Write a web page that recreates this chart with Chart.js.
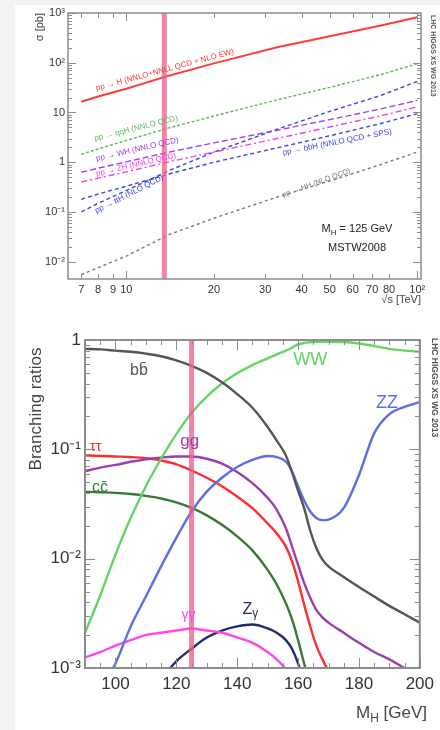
<!DOCTYPE html>
<html><head><meta charset="utf-8">
<script src="https://cdn.jsdelivr.net/npm/chart.js@4.4.0/dist/chart.umd.min.js"></script>
<style>
html,body{margin:0;padding:0;background:#f3f3f3;width:440px;height:730px;overflow:hidden}
#panel{position:absolute;left:15px;top:5px;width:425px;height:725px;background:#fff}
canvas{position:absolute;left:0}
</style></head><body>
<div id="panel"></div>
<canvas id="c1" width="440" height="305" style="top:0"></canvas>
<canvas id="c2" width="440" height="425" style="top:305px"></canvas>
<script>
// ---------- top chart data: cross sections vs sqrt(s) ----------
const sqrtS = [7, 8, 10, 14, 20, 33, 50, 75, 100];
const xsH   = [16.5, 21, 30, 55, 97, 205, 340, 560, 820];
const xsQQH = [1.45, 1.85, 2.75, 4.9, 8.5, 18, 32, 58, 95];
const xsWH  = [0.63, 0.76, 1.02, 1.6, 2.45, 4.4, 7.2, 11.8, 17.5];
const xsZH  = [0.40, 0.48, 0.64, 1.02, 1.6, 3.0, 5.1, 8.6, 13];
const xsBBH = [0.18, 0.23, 0.33, 0.58, 1.0, 1.95, 3.4, 6.0, 9.5];
const xsTTH = [0.10, 0.15, 0.27, 0.68, 1.6, 4.6, 10.5, 22, 42];
const xsHH  = [0.0055, 0.0076, 0.013, 0.035, 0.075, 0.2, 0.42, 0.9, 1.6];
const sTickVals   = [7, 8, 9, 10, 20, 30, 40, 50, 60, 70, 80, 100];
const sTickLabels = ['7','8','9','10','20','30','40','50','60','70','80','10²'];
const xsDecades   = [-2, -1, 0, 1, 2, 3];
const xsDecLabels = ['10⁻²','10⁻¹','1','10','10²','10³'];
const bandSqrtS = 13.5;

// ---------- bottom chart data: branching ratios vs M_H ----------
const massH = [90,95,100,105,110,115,120,125,130,135,140,145,150,153,156,158,160,162,164,166,168,170,175,180,185,190,195,200];
const brBB = [0.83,0.82,0.80,0.78,0.75,0.71,0.65,0.58,0.50,0.41,0.32,0.24,0.16,0.12,0.088,0.062,0.042,0.029,0.018,0.0125,0.0098,0.0085,0.0068,0.0055,0.0045,0.0037,0.0031,0.0026];
const brTT = [0.088,0.087,0.086,0.085,0.083,0.079,0.073,0.064,0.055,0.046,0.037,0.029,0.021,0.017,0.0129,0.0095,0.0062,0.0038,0.0024,0.0016,0.0012,0.00095,0.00075,0.0006,0.0005,0.0004,0.00035,0.0003];
const brGG = [0.063,0.068,0.072,0.077,0.081,0.084,0.086,0.086,0.082,0.074,0.062,0.049,0.036,0.028,0.019,0.013,0.0088,0.006,0.0044,0.0034,0.0029,0.0026,0.0021,0.0017,0.0014,0.0012,0.001,0.00088];
const brCC = [0.041,0.0405,0.040,0.039,0.0375,0.0355,0.0327,0.0291,0.0249,0.0204,0.016,0.0119,0.0079,0.0058,0.0039,0.0028,0.0018,0.0011,0.0007,0.0005,0.0004,0.00035,0.0003,0.00025,0.0002,0.00018,0.00016,0.00014];
const brAA = [0.00125,0.0014,0.0016,0.0018,0.0020,0.0021,0.0022,0.0023,0.0022,0.0021,0.0019,0.0017,0.0014,0.0012,0.00098,0.00085,0.0006,0.0004,0.0003,0.00025,0.0002,0.0002,0.00018,0.00016,0.00014,0.00012,0.0001,0.0001];
const brZA = [0.00001,0.00002,0.00005,0.0002,0.00045,0.00078,0.00115,0.0015,0.0019,0.0022,0.0024,0.0025,0.0023,0.0021,0.0018,0.0015,0.0011,0.0007,0.00045,0.0003,0.00025,0.0002,0.00018,0.00016,0.00014,0.00012,0.0001,0.0001];
const brWW = [0.0021,0.0046,0.0109,0.0235,0.046,0.082,0.138,0.215,0.304,0.40,0.497,0.59,0.68,0.74,0.80,0.85,0.91,0.94,0.955,0.962,0.965,0.965,0.96,0.93,0.88,0.83,0.80,0.78];
const brZZ = [0.00035,0.00065,0.0011,0.0024,0.0045,0.0085,0.0155,0.027,0.041,0.055,0.069,0.080,0.087,0.085,0.077,0.063,0.046,0.034,0.027,0.0235,0.0225,0.0228,0.029,0.058,0.14,0.21,0.245,0.27];
const mTickVals = [100,120,140,160,180,200];
const brDecades = [-3,-2,-1,0];
const brDecLabels = ['10⁻³','10⁻²','10⁻¹','1'];
const bandMass = 125;

const FONT = "'Liberation Sans', Arial, sans-serif";
Chart.defaults.font.family = FONT;

function pts(xs, ys){ return xs.map((v,i)=>({x:v, y:ys[i]})); }
function logMinors(d0, d1){ const r=[]; for(let d=d0; d<d1; d++){ for(let k=1;k<=9;k++) r.push([k*Math.pow(10,d), k===1?'M':'m']); } r.push([Math.pow(10,d1),'M']); return r; }

function makeDeco(o){
  return {
  id:'deco',
  afterDatasetsDraw(chart){
    const {ctx, chartArea:a, scales:{x,y}} = chart;
    ctx.save();
    const bx = x.getPixelForValue(o.band);
    ctx.fillStyle = 'rgba(234,98,138,0.78)';
    ctx.fillRect(bx - o.bandW/2, a.top, o.bandW, a.bottom - a.top);
    ctx.strokeStyle = '#8c8c8c'; ctx.lineWidth = o.frameW;
    ctx.strokeRect(a.left, a.top, a.right - a.left, a.bottom - a.top);
    ctx.lineWidth = 1;
    ctx.beginPath();
    o.xTicks.forEach(([v,len])=>{ const p = Math.round(x.getPixelForValue(v))+0.5;
      ctx.moveTo(p, a.bottom); ctx.lineTo(p, a.bottom - len);
      ctx.moveTo(p, a.top); ctx.lineTo(p, a.top + len); });
    o.yTicks.forEach(([v,t])=>{ const len = t==='M'?o.yMajor:o.yMinor; const p = Math.round(y.getPixelForValue(v))+0.5;
      ctx.moveTo(a.left, p); ctx.lineTo(a.left + len, p);
      ctx.moveTo(a.right, p); ctx.lineTo(a.right - len, p); });
    ctx.stroke();
    o.texts.forEach(t=>{
      let px, py;
      if (t.at){ px = x.getPixelForValue(t.at[0]); py = y.getPixelForValue(t.at[1]); }
      else { px = t.px; py = t.py; }
      ctx.save();
      ctx.translate(px, py);
      ctx.rotate((t.ang||0)*Math.PI/180);
      ctx.fillStyle = t.c || '#333';
      ctx.textBaseline = 'alphabetic';
      ctx.textAlign = 'left';
      const parts = t.parts || [[t.t, t.size, 0]];
      let total = 0;
      parts.forEach(p=>{ ctx.font = (t.w||'normal')+' '+p[1]+'px '+FONT; total += ctx.measureText(p[0]).width; });
      let cx = t.align==='center' ? -total/2 : (t.align==='right' ? -total : 0);
      parts.forEach(p=>{ ctx.font = (t.w||'normal')+' '+p[1]+'px '+FONT; ctx.fillText(p[0], cx, p[2]); cx += ctx.measureText(p[0]).width; });
      ctx.restore();
    });
    ctx.restore();
  }};
}

// ---------- top chart ----------
const cRed='#ff3b3b', cGreen='#5cb85c', cViolet='#a040f0', cMag='#ee40ee', cBlue='#3a48dd', cGray='#7a7a7a';
function ds(label, data, color, dash, w){ return {label, data:pts(sqrtS, data), borderColor:color, borderWidth:w||1.4, borderDash:dash||[], pointRadius:0, tension:0, fill:false}; }

const deco1 = makeDeco({ band:bandSqrtS, bandW:5, frameW:1.5,
  xTicks: sTickVals.map(v=>[v, (v===10||v===100)?8:5]),
  yTicks: logMinors(-2,3).filter(p=>p[0]>=0.0045),
  yMajor:8, yMinor:4,
  texts:[
    {t:'pp → H (NNLO+NNLL QCD + NLO EW)', at:[7.9,27.6], ang:-15, c:cRed, size:8},
    {t:'pp → qqH (NNLO QCD)', at:[7.8,2.69], ang:-14, c:cGreen, size:8},
    {t:'pp → WH (NNLO QCD)', at:[7.9,1.06], ang:-13, c:cViolet, size:8},
    {t:'pp → ZH (NNLO QCD)', at:[7.9,0.53], ang:-13, c:cMag, size:8},
    {t:'pp → ttH (NLO QCD)', at:[7.9,0.094], ang:-27, c:cBlue, size:8},
    {t:'pp → bbH (NNLO QCD + SPS)', at:[34.6,1.4], ang:-11, c:cBlue, size:8},
    {t:'pp → HH (NLO QCD)', at:[34.6,0.198], ang:-20, c:cGray, size:7.5},
    {parts:[['M',11,0],['H',8,3],[' = 125 GeV',11,0]], px:357, py:232, align:'center', c:'#222'},
    {t:'MSTW2008', px:357, py:251, align:'center', c:'#222', size:11},
    {t:'σ [pb]', px:43, py:13, ang:-90, align:'right', c:'#444', size:11},
    {t:'√s [TeV]', px:421, py:303, align:'right', c:'#444', size:11},
    {t:'LHC HIGGS XS WG 2013', px:431, py:15, ang:90, c:'#555', size:7, w:'bold'}
  ]});

new Chart(document.getElementById('c1'), {
  type:'line',
  data:{ datasets:[
    ds('pp → H', xsH, cRed, [], 2),
    ds('pp → qqH', xsQQH, cGreen, [3,2]),
    ds('pp → WH', xsWH, cViolet, [6,3]),
    ds('pp → ZH', xsZH, cMag, [6,3,2,3]),
    ds('pp → bbH', xsBBH, cBlue, [4,3]),
    ds('pp → ttH', xsTTH, cBlue, [4,3]),
    ds('pp → HH', xsHH, cGray, [3,3])
  ]},
  options:{
    responsive:false, animation:false, devicePixelRatio:1,
    layout:{padding:{top:13, right:19, left:0, bottom:0}},
    plugins:{ legend:{display:false}, tooltip:{enabled:false} },
    scales:{
      x:{ type:'logarithmic', min:6.3, max:103,
        afterBuildTicks:s=>{ s.ticks = sTickVals.map(v=>({value:v})); },
        afterFit:s=>{ s.height = 26; },
        grid:{display:false, drawTicks:false}, border:{display:false},
        ticks:{ autoSkip:false, maxRotation:0, minRotation:0, padding:4, color:'#333', font:{size:11},
          callback:(v,i)=>sTickLabels[i] } },
      y:{ type:'logarithmic', min:0.0045, max:1000,
        afterBuildTicks:s=>{ s.ticks = xsDecades.map(d=>({value:Math.pow(10,d)})); },
        afterFit:s=>{ s.width = 68; },
        grid:{display:false, drawTicks:false}, border:{display:false},
        ticks:{ autoSkip:false, padding:3, color:'#333', font:{size:11},
          callback:(v,i)=>xsDecLabels[i] } }
    }
  },
  plugins:[deco1]
});

// ---------- bottom chart ----------
const bCol = {bb:'#555555', tt:'#ff2d2d', gg:'#9b3fae', cc:'#357a35', aa:'#ff46ee', za:'#1f2d6b', ww:'#62d662', zz:'#5b6fe2'};
function bs(label, data, color){ return {label, data:pts(massH, data), borderColor:color, borderWidth:2.4, pointRadius:0, cubicInterpolationMode:'monotone', fill:false}; }
const mMinor = []; for(let m=90; m<=200; m+=5) mMinor.push([m, m%20===0?10:5]);

const deco2 = makeDeco({ band:bandMass, bandW:5, frameW:2,
  xTicks: mMinor,
  yTicks: logMinors(-3,0),
  yMajor:10, yMinor:5,
  texts:[
    {t:'bb̄', at:[107.7,0.477], align:'center', c:'#555', size:16},
    {t:'ττ', at:[91.6,0.096], c:bCol.tt, size:15},
    {t:'gg', at:[124.4,0.107], align:'center', c:bCol.gg, size:17},
    {t:'cc̄', at:[92.3,0.041], c:bCol.cc, size:16},
    {t:'γγ', at:[124,0.0028], align:'center', c:bCol.aa, size:14},
    {parts:[['Z',16,0],['γ',12,3]], at:[144.3,0.0031], align:'center', c:bCol.za},
    {t:'WW', at:[164,0.59], align:'center', c:bCol.ww, size:18},
    {t:'ZZ', at:[189.2,0.238], align:'center', c:bCol.zz, size:18},
    {t:'Branching ratios', px:41, py:104, ang:-90, align:'center', c:'#444', size:17},
    {parts:[['M',17,0],['H',12,4],[' [GeV]',17,0]], px:427, py:413, align:'right', c:'#444'},
    {t:'LHC HIGGS XS WG 2013', px:432, py:33, ang:90, c:'#555', size:8.5, w:'bold'}
  ]});

new Chart(document.getElementById('c2'), {
  type:'line',
  data:{ datasets:[
    bs('bb', brBB, bCol.bb), bs('WW', brWW, bCol.ww), bs('ZZ', brZZ, bCol.zz),
    bs('gg', brGG, bCol.gg), bs('tautau', brTT, bCol.tt), bs('cc', brCC, bCol.cc),
    bs('gamgam', brAA, bCol.aa), bs('Zgam', brZA, bCol.za)
  ]},
  options:{
    responsive:false, animation:false, devicePixelRatio:1,
    layout:{padding:{top:35, right:18, left:0, bottom:0}},
    plugins:{ legend:{display:false}, tooltip:{enabled:false} },
    scales:{
      x:{ type:'linear', min:90, max:200,
        afterBuildTicks:s=>{ s.ticks = mTickVals.map(v=>({value:v})); },
        afterFit:s=>{ s.height = 62; },
        grid:{display:false, drawTicks:false}, border:{display:false},
        ticks:{ autoSkip:false, maxRotation:0, minRotation:0, padding:6, color:'#333', font:{size:17} } },
      y:{ type:'logarithmic', min:0.001, max:1,
        afterBuildTicks:s=>{ s.ticks = brDecades.map(d=>({value:Math.pow(10,d)})); },
        afterFit:s=>{ s.width = 85; },
        grid:{display:false, drawTicks:false}, border:{display:false},
        ticks:{ autoSkip:false, padding:4, color:'#333', font:{size:17},
          callback:(v,i)=>brDecLabels[i] } }
    }
  },
  plugins:[deco2]
});
</script>
</body></html>
